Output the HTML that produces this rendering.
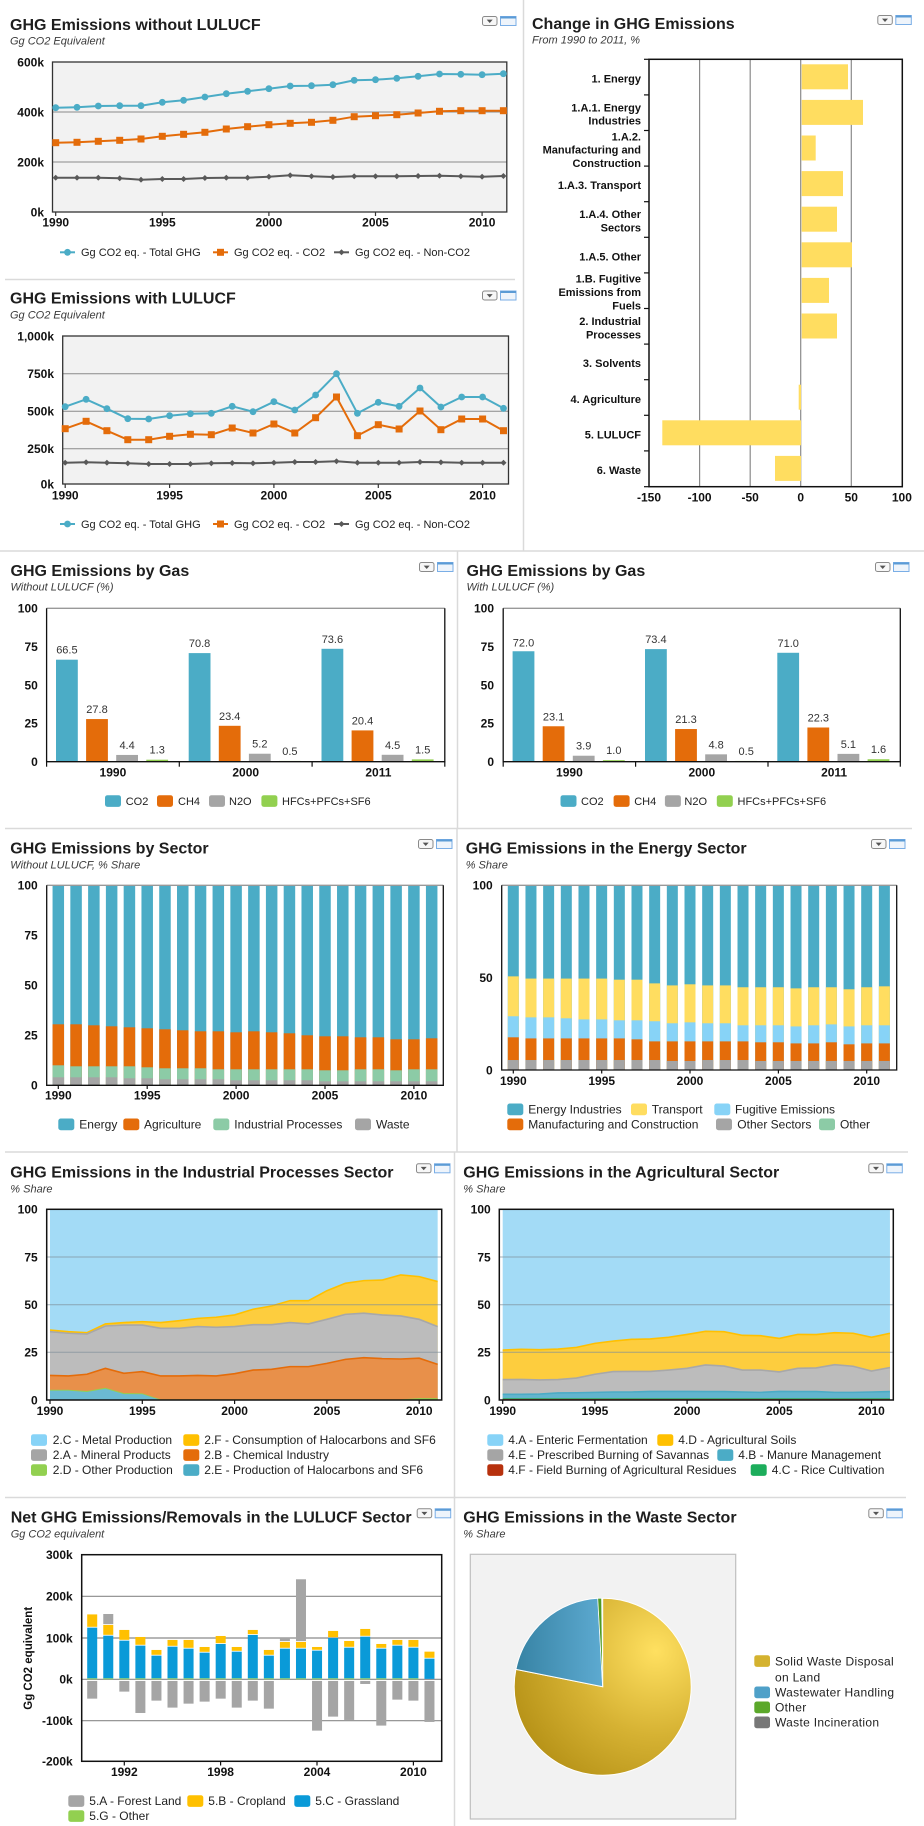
<!DOCTYPE html>
<html><head><meta charset="utf-8"><style>
html,body{margin:0;padding:0;background:#fff;}
svg{display:block;}
.t{font:bold 16px "Liberation Sans",Arial,sans-serif;fill:#1e1e1e}
.s{font:italic 11px "Liberation Sans",Arial,sans-serif;fill:#3a3a3a}
.ax{font:bold 12px "Liberation Sans",Arial,sans-serif;fill:#111}
.cat{font:bold 11px "Liberation Sans",Arial,sans-serif;fill:#111}
.lg{font:11px "Liberation Sans",Arial,sans-serif;fill:#222}
.lg2{font:12px "Liberation Sans",Arial,sans-serif;fill:#222}
.vl{font:11px "Liberation Sans",Arial,sans-serif;fill:#333}
</style></head><body>
<svg width="924" height="1826" viewBox="0 0 924 1826" xmlns="http://www.w3.org/2000/svg">
<defs>
<g id="ic">
<rect x="0.5" y="0.5" width="14.5" height="9" rx="2" fill="#f7f7f7" stroke="#8a8a8a"/>
<path d="M4.7 3.6 L10.7 3.6 L7.7 7 Z" fill="#555"/>
<rect x="18.5" y="0.5" width="15.5" height="9" fill="#eef4fb" stroke="#7aaee6"/>
<rect x="18.5" y="0.5" width="15.5" height="2" fill="#5b9bd5"/>
</g>
<marker id="mC" viewBox="0 0 8 8" refX="4" refY="4" markerWidth="8" markerHeight="8" markerUnits="userSpaceOnUse"><circle cx="4" cy="4" r="3.4" fill="#4BACC6"/></marker>
<marker id="mS" viewBox="0 0 8 8" refX="4" refY="4" markerWidth="8" markerHeight="8" markerUnits="userSpaceOnUse"><rect x="0.5" y="0.5" width="7" height="7" fill="#E46C0A"/></marker>
<marker id="mD" viewBox="0 0 6 6" refX="3" refY="3" markerWidth="6" markerHeight="6" markerUnits="userSpaceOnUse"><path d="M3 0L6 3L3 6L0 3Z" fill="#595959"/></marker>
<radialGradient id="gold" cx="0.8" cy="0.3" r="0.95">
<stop offset="0" stop-color="#FFE060"/><stop offset="0.5" stop-color="#D6B233"/><stop offset="1" stop-color="#B08C12"/>
</radialGradient>
<linearGradient id="blu" x1="0" y1="0" x2="1" y2="0">
<stop offset="0" stop-color="#3783A4"/><stop offset="1" stop-color="#5DAAD1"/>
</linearGradient>
</defs>

<!-- separators -->
<g stroke="#DADADA" stroke-width="1.5" fill="none">
<line x1="523.5" y1="0" x2="523.5" y2="551"/>
<line x1="5" y1="279.5" x2="515" y2="279.5"/>
<line x1="0" y1="551" x2="924" y2="551"/>
<line x1="457.5" y1="551" x2="457.5" y2="828"/>
<line x1="5" y1="828.5" x2="912" y2="828.5"/>
<line x1="457" y1="828" x2="457" y2="1152"/>
<line x1="5" y1="1152" x2="908" y2="1152"/>
<line x1="454.5" y1="1152" x2="454.5" y2="1826"/>
<line x1="5" y1="1497.5" x2="906" y2="1497.5"/>
</g>

<!-- icons -->
<use href="#ic" x="482" y="16"/>
<use href="#ic" x="482" y="290.5"/>
<use href="#ic" x="877.3" y="15"/>
<use href="#ic" x="419" y="562"/>
<use href="#ic" x="875" y="562"/>
<use href="#ic" x="418" y="839"/>
<use href="#ic" x="871" y="839"/>
<use href="#ic" x="416" y="1163.3"/>
<use href="#ic" x="868.3" y="1163.3"/>
<use href="#ic" x="416.7" y="1508.3"/>
<use href="#ic" x="868.3" y="1508.3"/>

<!-- titles -->
<text class="t" x="10" y="30">GHG Emissions without LULUCF</text>
<text class="s" x="10" y="44.5">Gg CO2 Equivalent</text>
<text class="t" x="10" y="303.5">GHG Emissions with LULUCF</text>
<text class="s" x="10" y="318.5">Gg CO2 Equivalent</text>
<text class="t" x="532" y="29">Change in GHG Emissions</text>
<text class="s" x="532" y="43.5">From 1990 to 2011, %</text>
<text class="t" x="10.5" y="576">GHG Emissions by Gas</text>
<text class="s" x="10.5" y="590.5">Without LULUCF (%)</text>
<text class="t" x="466.5" y="576">GHG Emissions by Gas</text>
<text class="s" x="466.5" y="590.5">With LULUCF (%)</text>
<text class="t" x="10.3" y="853.5">GHG Emissions by Sector</text>
<text class="s" x="10.3" y="868.5">Without LULUCF, % Share</text>
<text class="t" x="465.7" y="853.5">GHG Emissions in the Energy Sector</text>
<text class="s" x="465.7" y="868.5">% Share</text>
<text class="t" x="10.3" y="1177.5">GHG Emissions in the Industrial Processes Sector</text>
<text class="s" x="10.3" y="1192.5">% Share</text>
<text class="t" x="463.3" y="1177.5">GHG Emissions in the Agricultural Sector</text>
<text class="s" x="463.3" y="1192.5">% Share</text>
<text class="t" x="10.7" y="1522.5">Net GHG Emissions/Removals in the LULUCF Sector</text>
<text class="s" x="10.7" y="1537.5">Gg CO2 equivalent</text>
<text class="t" x="463.3" y="1522.5">GHG Emissions in the Waste Sector</text>
<text class="s" x="463.3" y="1537.5">% Share</text>

<!-- ===== Chart 1 ===== -->
<rect x="52.5" y="62" width="454.3" height="150" fill="#F2F2F2"/>
<g stroke="#8a8a8a" stroke-width="1"><line x1="52.5" y1="112" x2="506.8" y2="112"/><line x1="52.5" y1="162" x2="506.8" y2="162"/></g>
<rect x="52.5" y="62" width="454.3" height="150" fill="none" stroke="#333" stroke-width="1.3"/>
<g stroke="#333" stroke-width="1.2"><line x1="55.7" y1="212" x2="55.7" y2="216"/><line x1="162.3" y1="212" x2="162.3" y2="216"/><line x1="268.9" y1="212" x2="268.9" y2="216"/><line x1="375.5" y1="212" x2="375.5" y2="216"/><line x1="482.1" y1="212" x2="482.1" y2="216"/></g>
<polyline fill="none" stroke="#595959" stroke-width="2" marker-start="url(#mD)" marker-mid="url(#mD)" marker-end="url(#mD)" points="55.7,177.7 77.0,177.7 98.3,177.7 119.7,178.3 141.0,179.7 162.3,179 183.6,179 204.9,178 226.3,177.7 247.6,177.7 268.9,176.7 290.2,175.3 311.5,176.3 332.9,177 354.2,176.3 375.5,176.3 396.8,176.3 418.1,176 439.5,175.7 460.8,176.3 482.1,176.7 503.4,176"/>
<polyline fill="none" stroke="#E46C0A" stroke-width="2" marker-start="url(#mS)" marker-mid="url(#mS)" marker-end="url(#mS)" points="55.7,142.7 77.0,142.3 98.3,141.3 119.7,140.3 141.0,139 162.3,136.3 183.6,134.3 204.9,132.3 226.3,129 247.6,126.7 268.9,124.7 290.2,123.3 311.5,122.3 332.9,120.3 354.2,116.7 375.5,115.7 396.8,114.7 418.1,113 439.5,111.3 460.8,110.7 482.1,110.7 503.4,110.7"/>
<polyline fill="none" stroke="#4BACC6" stroke-width="2" marker-start="url(#mC)" marker-mid="url(#mC)" marker-end="url(#mC)" points="55.7,107.7 77.0,107.3 98.3,106 119.7,105.7 141.0,105.7 162.3,102.3 183.6,100.3 204.9,97 226.3,93.7 247.6,91.3 268.9,88.7 290.2,86 311.5,85.7 332.9,84.7 354.2,80.3 375.5,79.7 396.8,78.3 418.1,76.3 439.5,74 460.8,74.3 482.1,74.7 503.4,73.7"/>
<g class="ax" text-anchor="end"><text x="44" y="66.3">600k</text><text x="44" y="116.3">400k</text><text x="44" y="166.3">200k</text><text x="44" y="216.5">0k</text></g>
<g class="ax" text-anchor="middle"><text x="55.7" y="226.5">1990</text><text x="162.3" y="226.5">1995</text><text x="268.9" y="226.5">2000</text><text x="375.5" y="226.5">2005</text><text x="482.1" y="226.5">2010</text></g>
<line x1="60" y1="252.3" x2="75" y2="252.3" stroke="#4BACC6" stroke-width="2"/><circle cx="67.5" cy="252.3" r="3.4" fill="#4BACC6"/>
<text class="lg" x="81" y="256">Gg CO2 eq. - Total GHG</text>
<line x1="213" y1="252.3" x2="228" y2="252.3" stroke="#E46C0A" stroke-width="2"/><rect x="217" y="248.8" width="7" height="7" fill="#E46C0A"/>
<text class="lg" x="234" y="256">Gg CO2 eq. - CO2</text>
<line x1="334" y1="252.3" x2="349" y2="252.3" stroke="#595959" stroke-width="2"/><path d="M341.5 249.3L344.5 252.3L341.5 255.3L338.5 252.3Z" fill="#595959"/>
<text class="lg" x="355" y="256">Gg CO2 eq. - Non-CO2</text>

<!-- ===== Chart 2 ===== -->
<rect x="62.7" y="336" width="445.8" height="148" fill="#F2F2F2"/>
<g stroke="#8a8a8a" stroke-width="1"><line x1="62.7" y1="373.7" x2="508.5" y2="373.7"/><line x1="62.7" y1="411.3" x2="508.5" y2="411.3"/><line x1="62.7" y1="448.7" x2="508.5" y2="448.7"/></g>
<rect x="62.7" y="336" width="445.8" height="148" fill="none" stroke="#333" stroke-width="1.3"/>
<g stroke="#333" stroke-width="1.2"><line x1="65.2" y1="484" x2="65.2" y2="488"/><line x1="169.6" y1="484" x2="169.6" y2="488"/><line x1="273.9" y1="484" x2="273.9" y2="488"/><line x1="378.3" y1="484" x2="378.3" y2="488"/><line x1="482.6" y1="484" x2="482.6" y2="488"/></g>
<polyline fill="none" stroke="#595959" stroke-width="2" marker-start="url(#mD)" marker-mid="url(#mD)" marker-end="url(#mD)" points="65.2,462.7 86.1,462.3 106.9,462.7 127.8,463.3 148.7,464 169.6,464 190.4,464 211.3,463.3 232.2,463 253.0,463.3 273.9,462.7 294.8,462 315.6,462 336.5,461.3 357.4,462.7 378.3,462.7 399.1,462.7 420.0,462 440.9,462.3 461.7,462.7 482.6,462.7 503.5,462.7"/>
<polyline fill="none" stroke="#E46C0A" stroke-width="2" marker-start="url(#mS)" marker-mid="url(#mS)" marker-end="url(#mS)" points="65.2,428.7 86.1,421.3 106.9,430.7 127.8,439.7 148.7,439.7 169.6,436.3 190.4,434.3 211.3,434.7 232.2,428 253.0,433 273.9,424 294.8,433 315.6,417.7 336.5,397 357.4,435.7 378.3,424.7 399.1,429 420.0,411 440.9,429.7 461.7,419 482.6,419 503.5,430.7"/>
<polyline fill="none" stroke="#4BACC6" stroke-width="2" marker-start="url(#mC)" marker-mid="url(#mC)" marker-end="url(#mC)" points="65.2,406.7 86.1,399.3 106.9,408.7 127.8,418.7 148.7,419 169.6,415.7 190.4,413.7 211.3,413.3 232.2,406.3 253.0,411.7 273.9,401.7 294.8,410 315.6,395 336.5,373.7 357.4,413.3 378.3,402.3 399.1,406.3 420.0,388 440.9,407 461.7,397 482.6,397 503.5,408.3"/>
<g class="ax" text-anchor="end"><text x="54" y="340.3">1,000k</text><text x="54" y="378">750k</text><text x="54" y="415.6">500k</text><text x="54" y="453">250k</text><text x="54" y="488.3">0k</text></g>
<g class="ax" text-anchor="middle"><text x="65.2" y="499.5">1990</text><text x="169.6" y="499.5">1995</text><text x="273.9" y="499.5">2000</text><text x="378.3" y="499.5">2005</text><text x="482.6" y="499.5">2010</text></g>
<line x1="60" y1="524" x2="75" y2="524" stroke="#4BACC6" stroke-width="2"/><circle cx="67.5" cy="524" r="3.4" fill="#4BACC6"/>
<text class="lg" x="81" y="528">Gg CO2 eq. - Total GHG</text>
<line x1="213" y1="524" x2="228" y2="524" stroke="#E46C0A" stroke-width="2"/><rect x="217" y="520.5" width="7" height="7" fill="#E46C0A"/>
<text class="lg" x="234" y="528">Gg CO2 eq. - CO2</text>
<line x1="334" y1="524" x2="349" y2="524" stroke="#595959" stroke-width="2"/><path d="M341.5 521L344.5 524L341.5 527L338.5 524Z" fill="#595959"/>
<text class="lg" x="355" y="528">Gg CO2 eq. - Non-CO2</text>

<!-- ===== Change in GHG ===== -->
<g stroke="#8a8a8a" stroke-width="1.2"><line x1="699.6" y1="59.3" x2="699.6" y2="486.7"/><line x1="750.2" y1="59.3" x2="750.2" y2="486.7"/><line x1="800.7" y1="59.3" x2="800.7" y2="486.7"/><line x1="851.3" y1="59.3" x2="851.3" y2="486.7"/></g>
<g fill="#FFDD60">
<rect x="801.7" y="64.3" width="46.3" height="25"/>
<rect x="801.7" y="99.9" width="61.3" height="25"/>
<rect x="801.7" y="135.5" width="14" height="25"/>
<rect x="801.7" y="171.1" width="41.3" height="25"/>
<rect x="801.7" y="206.7" width="35.3" height="25"/>
<rect x="801.7" y="242.3" width="50.3" height="25"/>
<rect x="801.7" y="277.9" width="27.3" height="25"/>
<rect x="801.7" y="313.5" width="35.3" height="25"/>
<rect x="798.7" y="384.7" width="2.3" height="25"/>
<rect x="662.3" y="420.3" width="138.7" height="25"/>
<rect x="775" y="455.9" width="26" height="25"/>
</g>
<rect x="649" y="59.3" width="253.3" height="427.4" fill="none" stroke="#111" stroke-width="1.5"/>
<g stroke="#111" stroke-width="1.2"><line x1="644" y1="94.9" x2="649" y2="94.9"/><line x1="644" y1="130.5" x2="649" y2="130.5"/><line x1="644" y1="166.1" x2="649" y2="166.1"/><line x1="644" y1="201.7" x2="649" y2="201.7"/><line x1="644" y1="237.3" x2="649" y2="237.3"/><line x1="644" y1="272.9" x2="649" y2="272.9"/><line x1="644" y1="308.5" x2="649" y2="308.5"/><line x1="644" y1="344.1" x2="649" y2="344.1"/><line x1="644" y1="379.7" x2="649" y2="379.7"/><line x1="644" y1="415.3" x2="649" y2="415.3"/><line x1="644" y1="450.9" x2="649" y2="450.9"/><line x1="644" y1="59.3" x2="649" y2="59.3"/><line x1="644" y1="486.7" x2="649" y2="486.7"/></g>
<g class="cat" text-anchor="end">
<text x="641" y="82.4">1. Energy</text>
<text x="641" y="111.3">1.A.1. Energy<tspan x="641" dy="13.3">Industries</tspan></text>
<text x="641" y="140.3">1.A.2.<tspan x="641" dy="13.3">Manufacturing and</tspan><tspan x="641" dy="13.3">Construction</tspan></text>
<text x="641" y="189.2">1.A.3. Transport</text>
<text x="641" y="218.2">1.A.4. Other<tspan x="641" dy="13.3">Sectors</tspan></text>
<text x="641" y="260.4">1.A.5. Other</text>
<text x="641" y="282.7">1.B. Fugitive<tspan x="641" dy="13.3">Emissions from</tspan><tspan x="641" dy="13.3">Fuels</tspan></text>
<text x="641" y="325">2. Industrial<tspan x="641" dy="13.3">Processes</tspan></text>
<text x="641" y="367.2">3. Solvents</text>
<text x="641" y="402.8">4. Agriculture</text>
<text x="641" y="438.4">5. LULUCF</text>
<text x="641" y="474">6. Waste</text>
</g>
<g class="ax" text-anchor="middle"><text x="649" y="501.5">-150</text><text x="699.6" y="501.5">-100</text><text x="750.2" y="501.5">-50</text><text x="800.7" y="501.5">0</text><text x="851.3" y="501.5">50</text><text x="901.9" y="501.5">100</text></g>

<!-- ===== By Gas left ===== -->
<g transform="translate(0,761.7) scale(1,-1.534)">
<g fill="#4BACC6"><rect x="56" width="21.8" height="66.5"/><rect x="188.7" width="21.8" height="70.8"/><rect x="321.5" width="21.8" height="73.6"/></g>
<g fill="#E46C0A"><rect x="86.1" width="21.8" height="27.8"/><rect x="218.8" width="21.8" height="23.4"/><rect x="351.6" width="21.8" height="20.4"/></g>
<g fill="#A5A5A5"><rect x="116.2" width="21.8" height="4.4"/><rect x="248.9" width="21.8" height="5.2"/><rect x="381.7" width="21.8" height="4.5"/></g>
<g fill="#92D050"><rect x="146.3" width="21.8" height="1.3"/><rect x="279" width="21.8" height="0.5"/><rect x="411.8" width="21.8" height="1.5"/></g>
<g fill="#4BACC6"><rect x="512.6" width="21.8" height="72"/><rect x="645" width="21.8" height="73.4"/><rect x="777.3" width="21.8" height="71"/></g>
<g fill="#E46C0A"><rect x="542.7" width="21.8" height="23.1"/><rect x="675.1" width="21.8" height="21.3"/><rect x="807.4" width="21.8" height="22.3"/></g>
<g fill="#A5A5A5"><rect x="572.8" width="21.8" height="3.9"/><rect x="705.2" width="21.8" height="4.8"/><rect x="837.5" width="21.8" height="5.1"/></g>
<g fill="#92D050"><rect x="602.9" width="21.8" height="1"/><rect x="735.3" width="21.8" height="0.5"/><rect x="867.6" width="21.8" height="1.6"/></g>
</g>
<g fill="none" stroke-width="1.3">
<line x1="46.6" y1="608.3" x2="444.8" y2="608.3" stroke="#999"/>
<polyline points="46.6,608.3 46.6,761.7 444.8,761.7 444.8,608.3" stroke="#111"/>
<line x1="503.2" y1="608.3" x2="900.3" y2="608.3" stroke="#999"/>
<polyline points="503.2,608.3 503.2,761.7 900.3,761.7 900.3,608.3" stroke="#111"/>
</g>
<g stroke="#111" stroke-width="1.2"><line x1="179.3" y1="761.7" x2="179.3" y2="766.7"/><line x1="312.1" y1="761.7" x2="312.1" y2="766.7"/><line x1="46.6" y1="761.7" x2="46.6" y2="766.7"/><line x1="444.8" y1="761.7" x2="444.8" y2="766.7"/><line x1="503.2" y1="761.7" x2="503.2" y2="766.7"/><line x1="635.6" y1="761.7" x2="635.6" y2="766.7"/><line x1="768" y1="761.7" x2="768" y2="766.7"/><line x1="900.3" y1="761.7" x2="900.3" y2="766.7"/></g>
<g class="ax" text-anchor="end"><text x="37.8" y="612.5">100</text><text x="37.8" y="651">75</text><text x="37.8" y="689.3">50</text><text x="37.8" y="727.7">25</text><text x="37.8" y="766">0</text>
<text x="494" y="612.5">100</text><text x="494" y="651">75</text><text x="494" y="689.3">50</text><text x="494" y="727.7">25</text><text x="494" y="766">0</text></g>
<g class="ax" text-anchor="middle"><text x="112.9" y="776.5">1990</text><text x="245.7" y="776.5">2000</text><text x="378.4" y="776.5">2011</text><text x="569.4" y="776.5">1990</text><text x="701.8" y="776.5">2000</text><text x="834.1" y="776.5">2011</text></g>
<g class="vl" text-anchor="middle">
<text x="66.9" y="653.7">66.5</text><text x="97" y="713.1">27.8</text><text x="127.1" y="748.9">4.4</text><text x="157.2" y="753.7">1.3</text>
<text x="199.6" y="647.1">70.8</text><text x="229.7" y="719.8">23.4</text><text x="259.8" y="747.7">5.2</text><text x="289.9" y="754.9">0.5</text>
<text x="332.4" y="642.8">73.6</text><text x="362.5" y="724.4">20.4</text><text x="392.6" y="748.8">4.5</text><text x="422.7" y="753.4">1.5</text>
<text x="523.5" y="646.3">72.0</text><text x="553.6" y="720.3">23.1</text><text x="583.7" y="749.7">3.9</text><text x="613.8" y="754.2">1.0</text>
<text x="655.9" y="643.1">73.4</text><text x="686" y="723">21.3</text><text x="716.1" y="748.3">4.8</text><text x="746.2" y="754.9">0.5</text>
<text x="788.2" y="646.8">71.0</text><text x="818.3" y="721.5">22.3</text><text x="848.4" y="747.9">5.1</text><text x="878.5" y="753.2">1.6</text>
</g>
<rect x="105" y="795.2" width="16" height="11.7" rx="2.5" fill="#4BACC6"/><text class="lg" x="125.7" y="805">CO2</text>
<rect x="157" y="795.2" width="16" height="11.7" rx="2.5" fill="#E46C0A"/><text class="lg" x="178" y="805">CH4</text>
<rect x="209" y="795.2" width="16" height="11.7" rx="2.5" fill="#A5A5A5"/><text class="lg" x="229" y="805">N2O</text>
<rect x="261.4" y="795.2" width="16" height="11.7" rx="2.5" fill="#92D050"/><text class="lg" x="282" y="805">HFCs+PFCs+SF6</text>
<rect x="560.5" y="795.2" width="16" height="11.7" rx="2.5" fill="#4BACC6"/><text class="lg" x="581" y="805">CO2</text>
<rect x="613.6" y="795.2" width="16" height="11.7" rx="2.5" fill="#E46C0A"/><text class="lg" x="634.2" y="805">CH4</text>
<rect x="664.9" y="795.2" width="16" height="11.7" rx="2.5" fill="#A5A5A5"/><text class="lg" x="684.4" y="805">N2O</text>
<rect x="716.8" y="795.2" width="16" height="11.7" rx="2.5" fill="#92D050"/><text class="lg" x="737.5" y="805">HFCs+PFCs+SF6</text>

<!-- ===== By Sector ===== -->
<g transform="translate(52.55,1085.3) scale(17.78,-2)">
<g fill="#4BACC6"><rect x="0" width=".647" height="100"/><rect x="1" width=".647" height="100"/><rect x="2" width=".647" height="100"/><rect x="3" width=".647" height="100"/><rect x="4" width=".647" height="100"/><rect x="5" width=".647" height="100"/><rect x="6" width=".647" height="100"/><rect x="7" width=".647" height="100"/><rect x="8" width=".647" height="100"/><rect x="9" width=".647" height="100"/><rect x="10" width=".647" height="100"/><rect x="11" width=".647" height="100"/><rect x="12" width=".647" height="100"/><rect x="13" width=".647" height="100"/><rect x="14" width=".647" height="100"/><rect x="15" width=".647" height="100"/><rect x="16" width=".647" height="100"/><rect x="17" width=".647" height="100"/><rect x="18" width=".647" height="100"/><rect x="19" width=".647" height="100"/><rect x="20" width=".647" height="100"/><rect x="21" width=".647" height="100"/></g>
<g fill="#E46C0A"><rect x="0" width=".647" height="30.5"/><rect x="1" width=".647" height="30.5"/><rect x="2" width=".647" height="30"/><rect x="3" width=".647" height="29.5"/><rect x="4" width=".647" height="29"/><rect x="5" width=".647" height="28.5"/><rect x="6" width=".647" height="28"/><rect x="7" width=".647" height="27.5"/><rect x="8" width=".647" height="27"/><rect x="9" width=".647" height="27"/><rect x="10" width=".647" height="26.5"/><rect x="11" width=".647" height="27"/><rect x="12" width=".647" height="26.5"/><rect x="13" width=".647" height="26"/><rect x="14" width=".647" height="25"/><rect x="15" width=".647" height="24.5"/><rect x="16" width=".647" height="24.5"/><rect x="17" width=".647" height="24"/><rect x="18" width=".647" height="24"/><rect x="19" width=".647" height="23"/><rect x="20" width=".647" height="23"/><rect x="21" width=".647" height="23.5"/></g>
<g fill="#8CCBA6"><rect x="0" width=".647" height="10"/><rect x="1" width=".647" height="9.5"/><rect x="2" width=".647" height="9.5"/><rect x="3" width=".647" height="9.5"/><rect x="4" width=".647" height="9.5"/><rect x="5" width=".647" height="9"/><rect x="6" width=".647" height="8.5"/><rect x="7" width=".647" height="8.5"/><rect x="8" width=".647" height="8.5"/><rect x="9" width=".647" height="8"/><rect x="10" width=".647" height="8"/><rect x="11" width=".647" height="8"/><rect x="12" width=".647" height="8"/><rect x="13" width=".647" height="8"/><rect x="14" width=".647" height="8"/><rect x="15" width=".647" height="7.5"/><rect x="16" width=".647" height="7.5"/><rect x="17" width=".647" height="8"/><rect x="18" width=".647" height="8"/><rect x="19" width=".647" height="7.5"/><rect x="20" width=".647" height="8"/><rect x="21" width=".647" height="8"/></g>
<g fill="#A5A5A5"><rect x="0" width=".647" height="4"/><rect x="1" width=".647" height="4"/><rect x="2" width=".647" height="4"/><rect x="3" width=".647" height="4"/><rect x="4" width=".647" height="3.5"/><rect x="5" width=".647" height="3.5"/><rect x="6" width=".647" height="3"/><rect x="7" width=".647" height="3"/><rect x="8" width=".647" height="3"/><rect x="9" width=".647" height="3"/><rect x="10" width=".647" height="2.5"/><rect x="11" width=".647" height="2.5"/><rect x="12" width=".647" height="2.5"/><rect x="13" width=".647" height="2.5"/><rect x="14" width=".647" height="2.5"/><rect x="15" width=".647" height="2"/><rect x="16" width=".647" height="2"/><rect x="17" width=".647" height="2"/><rect x="18" width=".647" height="2"/><rect x="19" width=".647" height="2"/><rect x="20" width=".647" height="2"/><rect x="21" width=".647" height="2"/></g>
</g>
<g fill="none" stroke-width="1.3">
<line x1="46.7" y1="885.3" x2="443.3" y2="885.3" stroke="#999"/>
<polyline points="46.7,885.3 46.7,1085.3 443.3,1085.3 443.3,885.3" stroke="#111"/>
</g>
<g stroke="#111" stroke-width="1.2"><line x1="58.3" y1="1085.3" x2="58.3" y2="1089"/><line x1="147.2" y1="1085.3" x2="147.2" y2="1089"/><line x1="236.1" y1="1085.3" x2="236.1" y2="1089"/><line x1="325" y1="1085.3" x2="325" y2="1089"/><line x1="413.9" y1="1085.3" x2="413.9" y2="1089"/></g>
<g class="ax" text-anchor="end"><text x="37.7" y="889.6">100</text><text x="37.7" y="939.6">75</text><text x="37.7" y="989.6">50</text><text x="37.7" y="1039.6">25</text><text x="37.7" y="1089.6">0</text></g>
<g class="ax" text-anchor="middle"><text x="58.3" y="1099.5">1990</text><text x="147.2" y="1099.5">1995</text><text x="236.1" y="1099.5">2000</text><text x="325" y="1099.5">2005</text><text x="413.9" y="1099.5">2010</text></g>
<rect x="58.3" y="1118.5" width="16" height="11.7" rx="2.5" fill="#4BACC6"/><text class="lg2" x="79.3" y="1128.5">Energy</text>
<rect x="123.3" y="1118.5" width="16" height="11.7" rx="2.5" fill="#E46C0A"/><text class="lg2" x="144" y="1128.5">Agriculture</text>
<rect x="213.3" y="1118.5" width="16" height="11.7" rx="2.5" fill="#8CCBA6"/><text class="lg2" x="234.3" y="1128.5">Industrial Processes</text>
<rect x="355" y="1118.5" width="16" height="11.7" rx="2.5" fill="#A5A5A5"/><text class="lg2" x="376" y="1128.5">Waste</text>

<!-- ===== Energy Sector ===== -->
<g transform="translate(507.8,1070) scale(17.67,-1.847)">
<g fill="#4BACC6"><rect x="0" width=".6225" height="100"/><rect x="1" width=".6225" height="100"/><rect x="2" width=".6225" height="100"/><rect x="3" width=".6225" height="100"/><rect x="4" width=".6225" height="100"/><rect x="5" width=".6225" height="100"/><rect x="6" width=".6225" height="100"/><rect x="7" width=".6225" height="100"/><rect x="8" width=".6225" height="100"/><rect x="9" width=".6225" height="100"/><rect x="10" width=".6225" height="100"/><rect x="11" width=".6225" height="100"/><rect x="12" width=".6225" height="100"/><rect x="13" width=".6225" height="100"/><rect x="14" width=".6225" height="100"/><rect x="15" width=".6225" height="100"/><rect x="16" width=".6225" height="100"/><rect x="17" width=".6225" height="100"/><rect x="18" width=".6225" height="100"/><rect x="19" width=".6225" height="100"/><rect x="20" width=".6225" height="100"/><rect x="21" width=".6225" height="100"/></g>
<g fill="#FFDD60"><rect x="0" width=".6225" height="50.7"/><rect x="1" width=".6225" height="49.5"/><rect x="2" width=".6225" height="49.5"/><rect x="3" width=".6225" height="49.5"/><rect x="4" width=".6225" height="49.5"/><rect x="5" width=".6225" height="49.5"/><rect x="6" width=".6225" height="48.9"/><rect x="7" width=".6225" height="48.9"/><rect x="8" width=".6225" height="46.9"/><rect x="9" width=".6225" height="45.8"/><rect x="10" width=".6225" height="46.4"/><rect x="11" width=".6225" height="45.8"/><rect x="12" width=".6225" height="45.8"/><rect x="13" width=".6225" height="44.8"/><rect x="14" width=".6225" height="44.8"/><rect x="15" width=".6225" height="44.8"/><rect x="16" width=".6225" height="44.2"/><rect x="17" width=".6225" height="44.8"/><rect x="18" width=".6225" height="44.8"/><rect x="19" width=".6225" height="43.7"/><rect x="20" width=".6225" height="44.8"/><rect x="21" width=".6225" height="45.3"/></g>
<g fill="#87D3F7"><rect x="0" width=".6225" height="29.1"/><rect x="1" width=".6225" height="28.5"/><rect x="2" width=".6225" height="28.5"/><rect x="3" width=".6225" height="28"/><rect x="4" width=".6225" height="27.4"/><rect x="5" width=".6225" height="27.4"/><rect x="6" width=".6225" height="26.9"/><rect x="7" width=".6225" height="26.9"/><rect x="8" width=".6225" height="26.4"/><rect x="9" width=".6225" height="25.3"/><rect x="10" width=".6225" height="25.8"/><rect x="11" width=".6225" height="25.3"/><rect x="12" width=".6225" height="25.3"/><rect x="13" width=".6225" height="24.2"/><rect x="14" width=".6225" height="24.2"/><rect x="15" width=".6225" height="24.2"/><rect x="16" width=".6225" height="23.6"/><rect x="17" width=".6225" height="24.2"/><rect x="18" width=".6225" height="24.7"/><rect x="19" width=".6225" height="23.6"/><rect x="20" width=".6225" height="24.2"/><rect x="21" width=".6225" height="24.2"/></g>
<g fill="#E46C0A"><rect x="0" width=".6225" height="17.7"/><rect x="1" width=".6225" height="17.1"/><rect x="2" width=".6225" height="17.1"/><rect x="3" width=".6225" height="17.1"/><rect x="4" width=".6225" height="17.1"/><rect x="5" width=".6225" height="17.1"/><rect x="6" width=".6225" height="17.1"/><rect x="7" width=".6225" height="16.6"/><rect x="8" width=".6225" height="15.5"/><rect x="9" width=".6225" height="15.5"/><rect x="10" width=".6225" height="15.5"/><rect x="11" width=".6225" height="15.5"/><rect x="12" width=".6225" height="15.5"/><rect x="13" width=".6225" height="15.5"/><rect x="14" width=".6225" height="15"/><rect x="15" width=".6225" height="15"/><rect x="16" width=".6225" height="14.4"/><rect x="17" width=".6225" height="14.4"/><rect x="18" width=".6225" height="15"/><rect x="19" width=".6225" height="13.9"/><rect x="20" width=".6225" height="14.4"/><rect x="21" width=".6225" height="14.4"/></g>
<g fill="#A5A5A5"><rect x="0" width=".6225" height="5.4"/><rect x="1" width=".6225" height="5.4"/><rect x="2" width=".6225" height="5.4"/><rect x="3" width=".6225" height="5.4"/><rect x="4" width=".6225" height="5.4"/><rect x="5" width=".6225" height="5.4"/><rect x="6" width=".6225" height="5.4"/><rect x="7" width=".6225" height="5.4"/><rect x="8" width=".6225" height="5.4"/><rect x="9" width=".6225" height="4.9"/><rect x="10" width=".6225" height="4.9"/><rect x="11" width=".6225" height="5.4"/><rect x="12" width=".6225" height="5.4"/><rect x="13" width=".6225" height="5.4"/><rect x="14" width=".6225" height="4.9"/><rect x="15" width=".6225" height="4.9"/><rect x="16" width=".6225" height="4.9"/><rect x="17" width=".6225" height="4.9"/><rect x="18" width=".6225" height="4.9"/><rect x="19" width=".6225" height="4.9"/><rect x="20" width=".6225" height="4.9"/><rect x="21" width=".6225" height="4.9"/></g>
</g>
<g fill="none" stroke-width="1.3">
<line x1="501.7" y1="885.3" x2="896.7" y2="885.3" stroke="#999"/>
<polyline points="501.7,885.3 501.7,1070 896.7,1070 896.7,885.3" stroke="#111"/>
</g>
<g stroke="#111" stroke-width="1.2"><line x1="513.3" y1="1070" x2="513.3" y2="1073.5"/><line x1="601.7" y1="1070" x2="601.7" y2="1073.5"/><line x1="690" y1="1070" x2="690" y2="1073.5"/><line x1="778.4" y1="1070" x2="778.4" y2="1073.5"/><line x1="866.7" y1="1070" x2="866.7" y2="1073.5"/></g>
<g class="ax" text-anchor="end"><text x="492.7" y="889.6">100</text><text x="492.7" y="981.9">50</text><text x="492.7" y="1074.3">0</text></g>
<g class="ax" text-anchor="middle"><text x="513.3" y="1085">1990</text><text x="601.7" y="1085">1995</text><text x="690" y="1085">2000</text><text x="778.4" y="1085">2005</text><text x="866.7" y="1085">2010</text></g>
<rect x="507.3" y="1103.5" width="16" height="11.7" rx="2.5" fill="#4BACC6"/><text class="lg2" x="528.3" y="1113.5">Energy Industries</text>
<rect x="631" y="1103.5" width="16" height="11.7" rx="2.5" fill="#FFDD60"/><text class="lg2" x="651.7" y="1113.5">Transport</text>
<rect x="714.3" y="1103.5" width="16" height="11.7" rx="2.5" fill="#87D3F7"/><text class="lg2" x="735" y="1113.5">Fugitive Emissions</text>
<rect x="507.3" y="1118.5" width="16" height="11.7" rx="2.5" fill="#E46C0A"/><text class="lg2" x="528.3" y="1128.5">Manufacturing and Construction</text>
<rect x="716" y="1118.5" width="16" height="11.7" rx="2.5" fill="#A5A5A5"/><text class="lg2" x="737.3" y="1128.5">Other Sectors</text>
<rect x="819" y="1118.5" width="16" height="11.7" rx="2.5" fill="#8CCBA6"/><text class="lg2" x="840" y="1128.5">Other</text>

<!-- ===== Industrial Processes area ===== -->
<g transform="translate(50,1400) scale(18.46,-1.907)">
<rect x="0" y="0" width="21" height="100" fill="#A3DBF6"/>
<polygon fill="#FDCD3E" points="0,0 0,36.7 1,35.8 2,35.3 3,39.9 4,40.6 5,41.1 6,40.6 7,41.6 8,42.8 9,43.4 10,44.6 11,47.6 12,49.3 13,52.1 14,52.1 15,57.3 16,61.2 17,62.6 18,62.9 19,65.6 20,64.7 21,62.1 21,0"/>
<polygon fill="#BCBCBC" points="0,0 0,35.8 1,35 2,34.6 3,38.8 4,39.3 5,39.3 6,37.6 7,37.6 8,38.5 9,38.1 10,38.5 11,39.5 12,39.5 13,40.6 14,39.9 15,42.3 16,44.9 17,45.5 18,44.6 19,44.1 20,42.3 21,38.5 21,0"/>
<polygon fill="#E8904A" points="0,0 0,12.9 1,12.6 2,13.5 3,16.6 4,14 5,14.9 6,12.6 7,12.6 8,12.9 9,12.6 10,13.8 11,15.7 12,16.1 13,17.5 14,17.5 15,19.2 16,21.3 17,22.2 18,21.7 19,21.5 20,21.9 21,18.7 21,0"/>
<polygon fill="#92D050" points="0,0 0,5.4 1,5.4 2,4.7 3,6.4 4,3.6 5,3.5 6,0.3 19,0.3 20,1 21,1 21,0"/>
<polygon fill="#6BBAD2" points="0,0 0,4.9 1,4.9 2,4.2 3,5.9 4,3.1 5,3 6,0"/>
<g fill="none" stroke-width="1.6" vector-effect="non-scaling-stroke">
<polyline vector-effect="non-scaling-stroke" stroke="#FFC000" points="0,36.7 1,35.8 2,35.3 3,39.9 4,40.6 5,41.1 6,40.6 7,41.6 8,42.8 9,43.4 10,44.6 11,47.6 12,49.3 13,52.1 14,52.1 15,57.3 16,61.2 17,62.6 18,62.9 19,65.6 20,64.7 21,62.1"/>
<polyline vector-effect="non-scaling-stroke" stroke="#A8A8A8" points="0,35.8 1,35 2,34.6 3,38.8 4,39.3 5,39.3 6,37.6 7,37.6 8,38.5 9,38.1 10,38.5 11,39.5 12,39.5 13,40.6 14,39.9 15,42.3 16,44.9 17,45.5 18,44.6 19,44.1 20,42.3 21,38.5"/>
<polyline vector-effect="non-scaling-stroke" stroke="#E46C0A" points="0,12.9 1,12.6 2,13.5 3,16.6 4,14 5,14.9 6,12.6 7,12.6 8,12.9 9,12.6 10,13.8 11,15.7 12,16.1 13,17.5 14,17.5 15,19.2 16,21.3 17,22.2 18,21.7 19,21.5 20,21.9 21,18.7"/>
</g>
</g>
<g stroke="#7f8f99" stroke-width="1" opacity="0.7"><line x1="46.7" y1="1257" x2="441.7" y2="1257"/><line x1="46.7" y1="1304.7" x2="441.7" y2="1304.7"/><line x1="46.7" y1="1352.3" x2="441.7" y2="1352.3"/></g>
<rect x="46.7" y="1209.3" width="395" height="190.7" fill="none" stroke="#111" stroke-width="1.5"/>
<g stroke="#111" stroke-width="1.2"><line x1="50" y1="1400" x2="50" y2="1404"/><line x1="142.3" y1="1400" x2="142.3" y2="1404"/><line x1="234.6" y1="1400" x2="234.6" y2="1404"/><line x1="326.9" y1="1400" x2="326.9" y2="1404"/><line x1="419.2" y1="1400" x2="419.2" y2="1404"/></g>
<g class="ax" text-anchor="end"><text x="37.7" y="1213.6">100</text><text x="37.7" y="1261.3">75</text><text x="37.7" y="1309">50</text><text x="37.7" y="1356.6">25</text><text x="37.7" y="1404.3">0</text></g>
<g class="ax" text-anchor="middle"><text x="50" y="1415">1990</text><text x="142.3" y="1415">1995</text><text x="234.6" y="1415">2000</text><text x="326.9" y="1415">2005</text><text x="419.2" y="1415">2010</text></g>
<rect x="31" y="1434.2" width="16" height="11.7" rx="2.5" fill="#87D3F7"/><text class="lg2" x="52.7" y="1444.2">2.C - Metal Production</text>
<rect x="183.3" y="1434.2" width="16" height="11.7" rx="2.5" fill="#FFC000"/><text class="lg2" x="204.3" y="1444.2">2.F - Consumption of Halocarbons and SF6</text>
<rect x="31" y="1449.2" width="16" height="11.7" rx="2.5" fill="#A5A5A5"/><text class="lg2" x="52.7" y="1459.2">2.A - Mineral Products</text>
<rect x="183.3" y="1449.2" width="16" height="11.7" rx="2.5" fill="#E46C0A"/><text class="lg2" x="204.3" y="1459.2">2.B - Chemical Industry</text>
<rect x="31" y="1464.2" width="16" height="11.7" rx="2.5" fill="#92D050"/><text class="lg2" x="52.7" y="1474.2">2.D - Other Production</text>
<rect x="183.3" y="1464.2" width="16" height="11.7" rx="2.5" fill="#4BACC6"/><text class="lg2" x="204.3" y="1474.2">2.E - Production of Halocarbons and SF6</text>

<!-- ===== Agricultural area ===== -->
<g transform="translate(502.7,1400) scale(18.44,-1.907)">
<rect x="0" y="0" width="21" height="100" fill="#A3DBF6"/>
<polygon fill="#FDCD3E" points="0,0 0,26.2 1,26.6 2,26.4 3,26.7 4,27.6 5,29.7 6,30.9 7,31.8 8,32 9,32.9 10,34.4 11,36 12,35.8 13,33.9 14,33.7 15,32.3 16,34.4 17,34.3 18,35.3 19,35 20,32.9 21,35 21,0"/>
<polygon fill="#BCBCBC" points="0,0 0,10.7 1,10.8 2,10.5 3,10.7 4,11.5 5,13.5 6,14.9 7,15 8,15 9,15.7 10,16.6 11,18.4 12,17.8 13,15.7 14,15.7 15,14.7 16,16.6 17,16.8 18,18.5 19,17.7 20,15.2 21,17 21,0"/>
<polygon fill="#62B5CE" points="0,0 0,3 1,3 2,3.1 3,3.7 4,3.8 5,4 6,4.2 7,4.2 8,4.5 9,4.5 10,4.5 11,4.4 12,4.4 13,4.2 14,4 15,4.5 16,4.4 17,4.4 18,4 19,4 20,4.2 21,4.4 21,0"/>
<rect x="0" y="0" width="21" height="1" fill="#3DAA6B"/>
<rect x="0" y="0" width="21" height="0.5" fill="#B94A2A"/>
<g fill="none" stroke-width="1.6">
<polyline vector-effect="non-scaling-stroke" stroke="#FFC000" points="0,26.2 1,26.6 2,26.4 3,26.7 4,27.6 5,29.7 6,30.9 7,31.8 8,32 9,32.9 10,34.4 11,36 12,35.8 13,33.9 14,33.7 15,32.3 16,34.4 17,34.3 18,35.3 19,35 20,32.9 21,35"/>
<polyline vector-effect="non-scaling-stroke" stroke="#A8A8A8" points="0,10.7 1,10.8 2,10.5 3,10.7 4,11.5 5,13.5 6,14.9 7,15 8,15 9,15.7 10,16.6 11,18.4 12,17.8 13,15.7 14,15.7 15,14.7 16,16.6 17,16.8 18,18.5 19,17.7 20,15.2 21,17"/>
<polyline vector-effect="non-scaling-stroke" stroke="#4BACC6" points="0,3 1,3 2,3.1 3,3.7 4,3.8 5,4 6,4.2 7,4.2 8,4.5 9,4.5 10,4.5 11,4.4 12,4.4 13,4.2 14,4 15,4.5 16,4.4 17,4.4 18,4 19,4 20,4.2 21,4.4"/>
</g>
</g>
<g stroke="#7f8f99" stroke-width="1" opacity="0.7"><line x1="499.3" y1="1257" x2="893.3" y2="1257"/><line x1="499.3" y1="1304.7" x2="893.3" y2="1304.7"/><line x1="499.3" y1="1352.3" x2="893.3" y2="1352.3"/></g>
<rect x="499.3" y="1209.3" width="394" height="190.7" fill="none" stroke="#111" stroke-width="1.5"/>
<g stroke="#111" stroke-width="1.2"><line x1="502.7" y1="1400" x2="502.7" y2="1404"/><line x1="594.9" y1="1400" x2="594.9" y2="1404"/><line x1="687.1" y1="1400" x2="687.1" y2="1404"/><line x1="779.3" y1="1400" x2="779.3" y2="1404"/><line x1="871.5" y1="1400" x2="871.5" y2="1404"/></g>
<g class="ax" text-anchor="end"><text x="490.7" y="1213.6">100</text><text x="490.7" y="1261.3">75</text><text x="490.7" y="1309">50</text><text x="490.7" y="1356.6">25</text><text x="490.7" y="1404.3">0</text></g>
<g class="ax" text-anchor="middle"><text x="502.7" y="1415">1990</text><text x="594.9" y="1415">1995</text><text x="687.1" y="1415">2000</text><text x="779.3" y="1415">2005</text><text x="871.5" y="1415">2010</text></g>
<rect x="487.3" y="1434.2" width="16" height="11.7" rx="2.5" fill="#87D3F7"/><text class="lg2" x="508.3" y="1444.2">4.A - Enteric Fermentation</text>
<rect x="657.3" y="1434.2" width="16" height="11.7" rx="2.5" fill="#FFC000"/><text class="lg2" x="678.3" y="1444.2">4.D - Agricultural Soils</text>
<rect x="487.3" y="1449.2" width="16" height="11.7" rx="2.5" fill="#A5A5A5"/><text class="lg2" x="508.3" y="1459.2">4.E - Prescribed Burning of Savannas</text>
<rect x="717.3" y="1449.2" width="16" height="11.7" rx="2.5" fill="#4BACC6"/><text class="lg2" x="738.3" y="1459.2">4.B - Manure Management</text>
<rect x="487.3" y="1464.2" width="16" height="11.7" rx="2.5" fill="#B7310D"/><text class="lg2" x="508.3" y="1474.2">4.F - Field Burning of Agricultural Residues</text>
<rect x="750.7" y="1464.2" width="16" height="11.7" rx="2.5" fill="#1CAD5B"/><text class="lg2" x="771.7" y="1474.2">4.C - Rice Cultivation</text>

<!-- ===== LULUCF ===== -->
<g stroke="#8a8a8a" stroke-width="1.2"><line x1="81.7" y1="1596.3" x2="441.7" y2="1596.3"/><line x1="81.7" y1="1638" x2="441.7" y2="1638"/><line x1="81.7" y1="1679.3" x2="441.7" y2="1679.3"/><line x1="81.7" y1="1720.7" x2="441.7" y2="1720.7"/></g>
<g transform="translate(87.2,1679.3) scale(16.06,-0.4133)">
<g fill="#92D050"><rect x="0" y="0" width=".623" height="2.5"/><rect x="1" y="0" width=".623" height="2.5"/><rect x="2" y="0" width=".623" height="2.5"/><rect x="3" y="0" width=".623" height="2.5"/><rect x="4" y="0" width=".623" height="2.5"/><rect x="5" y="0" width=".623" height="2.5"/><rect x="6" y="0" width=".623" height="2.5"/><rect x="7" y="0" width=".623" height="2.5"/><rect x="8" y="0" width=".623" height="2.5"/><rect x="9" y="0" width=".623" height="2.5"/><rect x="10" y="0" width=".623" height="2.5"/><rect x="11" y="0" width=".623" height="2.5"/><rect x="12" y="0" width=".623" height="2.5"/><rect x="13" y="0" width=".623" height="2.5"/><rect x="14" y="0" width=".623" height="2.5"/><rect x="15" y="0" width=".623" height="2.5"/><rect x="16" y="0" width=".623" height="2.5"/><rect x="17" y="0" width=".623" height="2.5"/><rect x="18" y="0" width=".623" height="2.5"/><rect x="19" y="0" width=".623" height="2.5"/><rect x="20" y="0" width=".623" height="2.5"/></g>
<g fill="#0A9AD8"><rect x="0" y="2.5" width=".623" height="122.5"/><rect x="1" y="2.5" width=".623" height="103.1"/><rect x="2" y="2.5" width=".623" height="91"/><rect x="3" y="2.5" width=".623" height="79"/><rect x="4" y="2.5" width=".623" height="54.8"/><rect x="5" y="2.5" width=".623" height="76.5"/><rect x="6" y="2.5" width=".623" height="71.7"/><rect x="7" y="2.5" width=".623" height="62"/><rect x="8" y="2.5" width=".623" height="83"/><rect x="9" y="2.5" width=".623" height="64.4"/><rect x="10" y="2.5" width=".623" height="104.8"/><rect x="11" y="2.5" width=".623" height="54.8"/><rect x="12" y="2.5" width=".623" height="71.7"/><rect x="13" y="2.5" width=".623" height="71.7"/><rect x="14" y="2.5" width=".623" height="66.9"/><rect x="15" y="2.5" width=".623" height="97.5"/><rect x="16" y="2.5" width=".623" height="74.1"/><rect x="17" y="2.5" width=".623" height="100.7"/><rect x="18" y="2.5" width=".623" height="71.7"/><rect x="19" y="2.5" width=".623" height="79"/><rect x="20" y="2.5" width=".623" height="74.1"/><rect x="21" y="1" width=".623" height="49"/></g>
<g fill="#FFC000"><rect x="0" y="127" width=".623" height="30"/><rect x="1" y="107.6" width=".623" height="23.9"/><rect x="2" y="95.5" width=".623" height="23.9"/><rect x="3" y="83.5" width=".623" height="18.9"/><rect x="4" y="59.3" width=".623" height="11.7"/><rect x="5" y="81" width=".623" height="14.2"/><rect x="6" y="76.2" width=".623" height="19"/><rect x="7" y="66.5" width=".623" height="11.7"/><rect x="8" y="87.5" width=".623" height="17.3"/><rect x="9" y="68.9" width=".623" height="9.3"/><rect x="10" y="109.3" width=".623" height="10.1"/><rect x="11" y="59.3" width=".623" height="11.7"/><rect x="12" y="76.2" width=".623" height="14.1"/><rect x="13" y="76.2" width=".623" height="14.1"/><rect x="14" y="71.4" width=".623" height="6.8"/><rect x="15" y="102" width=".623" height="15"/><rect x="16" y="78.6" width=".623" height="14.1"/><rect x="17" y="105.2" width=".623" height="16.6"/><rect x="18" y="76.2" width=".623" height="9.3"/><rect x="19" y="83.5" width=".623" height="11.7"/><rect x="20" y="78.6" width=".623" height="16.6"/><rect x="21" y="52" width=".623" height="14.9"/></g>
<g fill="#A5A5A5"><rect x="1" y="133.5" width=".623" height="24.5"/><rect x="12" y="92.3" width=".623" height="7.7"/><rect x="13" y="92.3" width=".623" height="149.7"/>
<rect x="0" y="-46.8" width=".623" height="42.8"/><rect x="2" y="-29.8" width=".623" height="25.8"/><rect x="3" y="-81.5" width=".623" height="77.5"/><rect x="4" y="-51.6" width=".623" height="47.6"/><rect x="5" y="-68.5" width=".623" height="64.5"/><rect x="6" y="-58.9" width=".623" height="54.9"/><rect x="7" y="-54" width=".623" height="50"/><rect x="8" y="-46.8" width=".623" height="42.8"/><rect x="9" y="-68.5" width=".623" height="64.5"/><rect x="10" y="-51.6" width=".623" height="47.6"/><rect x="11" y="-71" width=".623" height="67"/><rect x="14" y="-124.2" width=".623" height="120.2"/><rect x="15" y="-90.3" width=".623" height="86.3"/><rect x="16" y="-98.4" width=".623" height="94.4"/><rect x="17" y="-11.3" width=".623" height="7.3"/><rect x="18" y="-112" width=".623" height="108"/><rect x="19" y="-49.2" width=".623" height="45.2"/><rect x="20" y="-51.6" width=".623" height="47.6"/><rect x="21" y="-103.2" width=".623" height="99.2"/></g>
</g>
<rect x="81.7" y="1554.7" width="360" height="206.6" fill="none" stroke="#111" stroke-width="1.5"/>
<g stroke="#111" stroke-width="1.2"><line x1="124.3" y1="1761.3" x2="124.3" y2="1765.5"/><line x1="220.6" y1="1761.3" x2="220.6" y2="1765.5"/><line x1="317" y1="1761.3" x2="317" y2="1765.5"/><line x1="413.4" y1="1761.3" x2="413.4" y2="1765.5"/></g>
<g class="ax" text-anchor="end"><text x="72.7" y="1559">300k</text><text x="72.7" y="1600.6">200k</text><text x="72.7" y="1642.3">100k</text><text x="72.7" y="1683.6">0k</text><text x="72.7" y="1725">-100k</text><text x="72.7" y="1765.6">-200k</text></g>
<g class="ax" text-anchor="middle"><text x="124.3" y="1776">1992</text><text x="220.6" y="1776">1998</text><text x="317" y="1776">2004</text><text x="413.4" y="1776">2010</text></g>
<text class="ax" text-anchor="middle" transform="translate(32,1658.3) rotate(-90)" style="font-size:11.5px">Gg CO2 equivalent</text>
<rect x="68.3" y="1795.2" width="16" height="11.7" rx="2.5" fill="#A5A5A5"/><text class="lg2" x="89.3" y="1805.2">5.A - Forest Land</text>
<rect x="187.3" y="1795.2" width="16" height="11.7" rx="2.5" fill="#FFC000"/><text class="lg2" x="208.3" y="1805.2">5.B - Cropland</text>
<rect x="294.3" y="1795.2" width="16" height="11.7" rx="2.5" fill="#0A9AD8"/><text class="lg2" x="315.3" y="1805.2">5.C - Grassland</text>
<rect x="68.3" y="1810.2" width="16" height="11.7" rx="2.5" fill="#92D050"/><text class="lg2" x="89.3" y="1820.2">5.G - Other</text>

<!-- ===== Waste pie ===== -->
<rect x="470.3" y="1554.3" width="265.4" height="264.7" fill="#F2F2F2" stroke="#BFBFBF" stroke-width="1.2"/>
<path d="M602.7,1686.7 L602.7,1598.2 A88.5,88.5 0 1 1 515.9,1669.4 Z" fill="url(#gold)" stroke="#fff" stroke-width="1"/>
<path d="M602.7,1686.7 L515.9,1669.4 A88.5,88.5 0 0 1 597.8,1598.3 Z" fill="url(#blu)" stroke="#fff" stroke-width="1"/>
<path d="M602.7,1686.7 L597.8,1598.3 A88.5,88.5 0 0 1 601.5,1598.2 Z" fill="#4E9A22" stroke="#fff" stroke-width="0.6"/>
<rect x="754.3" y="1655.2" width="15.7" height="11.7" rx="2.5" fill="#D4B22F"/><text class="lg2" x="775" y="1665.7" style="letter-spacing:0.3px">Solid Waste Disposal</text>
<text class="lg2" x="775" y="1681.7" style="letter-spacing:0.3px">on Land</text>
<rect x="754.3" y="1686.5" width="15.7" height="11.7" rx="2.5" fill="#4FA0C8"/><text class="lg2" x="775" y="1696.7" style="letter-spacing:0.3px">Wastewater Handling</text>
<rect x="754.3" y="1701.5" width="15.7" height="11.7" rx="2.5" fill="#5BA82A"/><text class="lg2" x="775" y="1711.7" style="letter-spacing:0.3px">Other</text>
<rect x="754.3" y="1716.5" width="15.7" height="11.7" rx="2.5" fill="#777"/><text class="lg2" x="775" y="1726.7" style="letter-spacing:0.3px">Waste Incineration</text>
</svg>
</body></html>
